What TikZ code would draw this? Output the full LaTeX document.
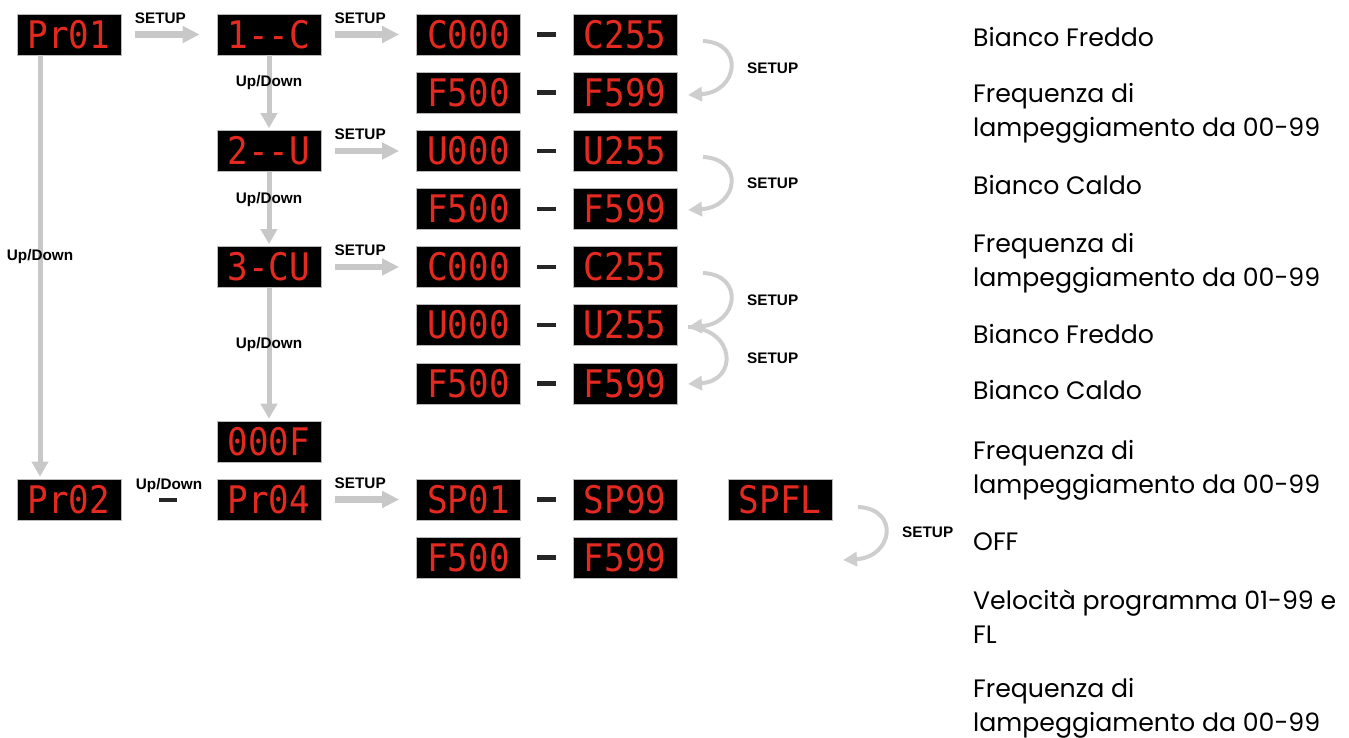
\documentclass[tikz,border=0pt]{standalone}
\usepackage{fontspec}
\setmainfont{Poppins}
\newfontfamily\lblfont{Liberation Sans}
\newfontfamily\ledfont[FakeStretch=0.9]{DejaVu Sans Mono}
\usetikzlibrary{arrows.meta}

\definecolor{ledred}{RGB}{228,42,32}
\definecolor{arrowgray}{RGB}{200,200,200}
\definecolor{bendgray}{RGB}{206,206,206}

\tikzset{
  lcd/.style={fill=black, draw=gray!55, line width=0.6pt, minimum width=104pt,
    minimum height=41pt, inner sep=0pt, text=ledred,
    font=\ledfont\fontsize{38}{38}\selectfont},
  lbl/.style={inner sep=0pt, font=\lblfont\bfseries\fontsize{15.3}{15.3}\selectfont},
  desc/.style={inner sep=0pt, anchor=base west, align=left,
    font=\fontsize{25.2}{34}\selectfont},
  hsetup/.style={draw=arrowgray, line width=6.5pt, shorten <=14pt, shorten >=17pt,
    -{Triangle[length=17pt,width=16pt]}},
  vupdown/.style={draw=arrowgray, line width=5pt, shorten >=2pt,
    -{Triangle[length=15pt,width=16pt]}},
  loopback/.style={draw=bendgray, line width=4pt, -{Triangle[length=14pt,width=14pt]}},
  dashbar/.style={draw=black!85, line width=4.5pt, shorten <=16pt, shorten >=17pt},
}

\begin{document}
\begin{tikzpicture}[x=1pt, y=-1pt]
  \useasboundingbox (0,0) rectangle (1349,738);

  % programmes
  \node[lcd] (pr01) at (69,34.5) {Pr01};
  \node[lcd] (pr02) at (69,499.5) {Pr02};

  % colour modes
  \node[lcd] (m1) at (269,34.5) {1-\kern0pt-C};
  \node[lcd] (m2) at (269,151) {2-\kern0pt-U};
  \node[lcd] (m3) at (269,267) {3-CU};
  \node[lcd] (moff) at (269,441.5) {000F};
  \node[lcd] (pr04) at (269,499.5) {Pr04};

  % values
  \node[lcd] (c1lo) at (468.5,34.5) {C000};
  \node[lcd] (c1hi) at (625,34.5) {C255};
  \node[lcd] (f1lo) at (468.5,92.5) {F500};
  \node[lcd] (f1hi) at (625,92.5) {F599};
  \node[lcd] (u2lo) at (468.5,151) {U000};
  \node[lcd] (u2hi) at (625,151) {U255};
  \node[lcd] (f2lo) at (468.5,209) {F500};
  \node[lcd] (f2hi) at (625,209) {F599};
  \node[lcd] (c3lo) at (468.5,267) {C000};
  \node[lcd] (c3hi) at (625,267) {C255};
  \node[lcd] (u3lo) at (468.5,325) {U000};
  \node[lcd] (u3hi) at (625,325) {U255};
  \node[lcd] (f3lo) at (468.5,383.5) {F500};
  \node[lcd] (f3hi) at (625,383.5) {F599};
  \node[lcd] (splo) at (468.5,499.5) {SP01};
  \node[lcd] (sphi) at (625,499.5) {SP99};
  \node[lcd] (spfl) at (780,499.5) {SPFL};
  \node[lcd] (f4lo) at (468.5,557.5) {F500};
  \node[lcd] (f4hi) at (625,557.5) {F599};

  % ranges
  \draw[dashbar] (c1lo) -- (c1hi);
  \draw[dashbar] (f1lo) -- (f1hi);
  \draw[dashbar] (u2lo) -- (u2hi);
  \draw[dashbar] (f2lo) -- (f2hi);
  \draw[dashbar] (c3lo) -- (c3hi);
  \draw[dashbar] (u3lo) -- (u3hi);
  \draw[dashbar] (f3lo) -- (f3hi);
  \draw[dashbar] (splo) -- (sphi);
  \draw[dashbar] (f4lo) -- (f4hi);

  % SETUP arrows
  \draw[hsetup] (pr01) -- node[lbl, pos=0.41, above=8pt] (s1) {SETUP} (m1);
  \draw[hsetup] (m1) -- node[lbl, pos=0.41, above=8pt] (s2) {SETUP} (c1lo);
  \draw[hsetup] (m2) -- node[lbl, pos=0.41, above=8pt] (s3) {SETUP} (u2lo);
  \draw[hsetup] (m3) -- node[lbl, pos=0.41, above=8pt] (s4) {SETUP} (c3lo);
  \draw[hsetup] (pr04) -- node[lbl, pos=0.41, above=8pt] (s5) {SETUP} (splo);

  % Up/Down arrows
  \draw[vupdown] (m1) -- node[lbl, pos=0.37] (ud1) {Up/Down} (m2);
  \draw[vupdown] (m2) -- node[lbl, pos=0.37] (ud2) {Up/Down} (m3);
  \draw[vupdown] (m3) -- node[lbl, pos=0.43] (ud3) {Up/Down} (moff);
  \draw[vupdown] ([xshift=-29pt]pr01.south) -- node[lbl, pos=0.476] (ud0) {Up/Down}
    ([xshift=-29pt]pr02.north);
  \draw[dashbar, line width=4pt, shorten <=38pt, shorten >=40pt] (pr02)
    -- node[lbl, above=5pt] (ud4) {Up/Down} (pr04);

  % SETUP loops
  \coordinate (b1s) at (703,41);
  \coordinate (b1e) at (688,95);
  \draw[loopback] (b1s) .. controls +(42,2) and +(50,-3) .. (b1e);
  \node[lbl, anchor=west] (s6) at (747,68) {SETUP};

  \coordinate (b2s) at (703,157);
  \coordinate (b2e) at (688,210);
  \draw[loopback] (b2s) .. controls +(42,2) and +(50,-3) .. (b2e);
  \node[lbl, anchor=west] (s7) at (747,183) {SETUP};

  \coordinate (b3s) at (703,273);
  \coordinate (b3m) at (688,327);
  \coordinate (b3e) at (688,384);
  \draw[loopback] (b3s) .. controls +(42,2) and +(50,-3) .. (b3m);
  \draw[loopback] (b3m) .. controls +(48,2) and +(50,-3) .. (b3e);
  \node[lbl, anchor=west] (s8) at (747,300) {SETUP};
  \node[lbl, anchor=west] (s9) at (747,358) {SETUP};

  \coordinate (b4s) at (858,507);
  \coordinate (b4e) at (843,560);
  \draw[loopback] (b4s) .. controls +(42,2) and +(50,-3) .. (b4e);
  \node[lbl, anchor=west] (s10) at (902,532) {SETUP};

  % descriptions (base = last line)
  \node[desc] (d1) at (973,47) {Bianco Freddo};
  \node[desc] (d2) at (973,137) {Frequenza di\\lampeggiamento da 00-99};
  \node[desc] (d3) at (973,195) {Bianco Caldo};
  \node[desc] (d4) at (973,286) {Frequenza di\\lampeggiamento da 00-99};
  \node[desc] (d5) at (973,343) {Bianco Freddo};
  \node[desc] (d6) at (973,399) {Bianco Caldo};
  \node[desc] (d7) at (973,493) {Frequenza di\\lampeggiamento da 00-99};
  \node[desc] (d8) at (973,550) {OFF};
  \node[desc] (d9) at (973,643) {Velocità programma 01-99 e\\FL};
  \node[desc] (d10) at (973,731) {Frequenza di\\lampeggiamento da 00-99};
\end{tikzpicture}
\end{document}
